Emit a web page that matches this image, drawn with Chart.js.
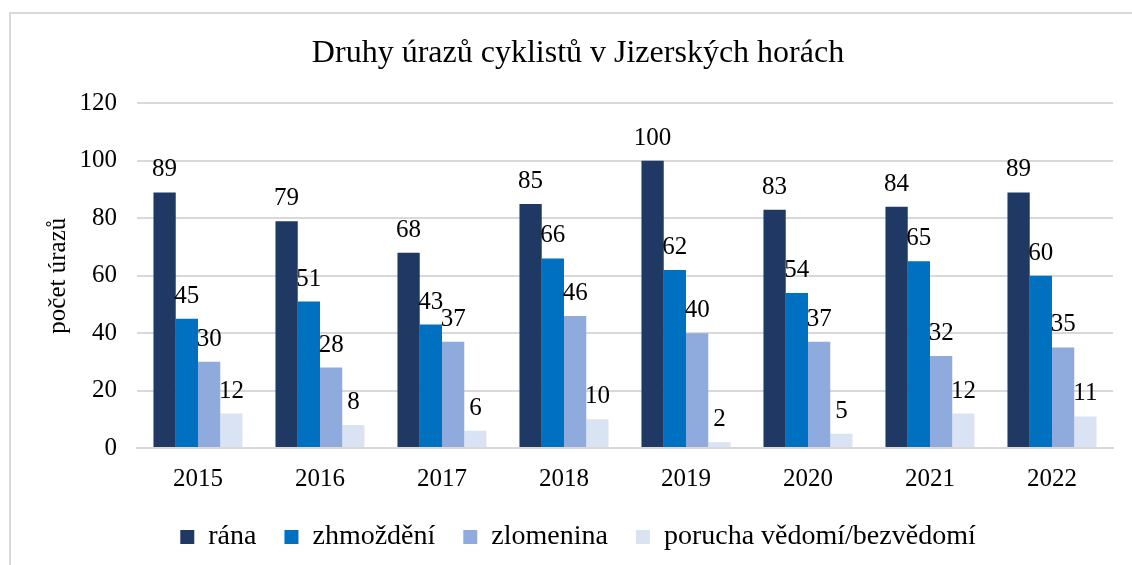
<!DOCTYPE html>
<html>
<head>
<meta charset="utf-8">
<script src="https://cdn.jsdelivr.net/npm/chart.js@4/dist/chart.umd.min.js"></script>
<style>
  html, body { margin: 0; padding: 0; background: #fff; overflow: hidden; }
  #box { position: absolute; left: 9px; top: 12px; width: 1140px; height: 570px;
         border-left: 2px solid #d9d9d9; border-top: 2px solid #d9d9d9; }
  #wrap { position: absolute; left: 0; top: 0; width: 1132px; height: 551px; }
</style>
</head>
<body>
<div id="box"><div id="wrap"><canvas id="urazy"></canvas></div></div>
<script>
const years = ['2015', '2016', '2017', '2018', '2019', '2020', '2021', '2022'];
const rana = [89, 79, 68, 85, 100, 83, 84, 89];
const zhmozdeni = [45, 51, 43, 66, 62, 54, 65, 60];
const zlomenina = [30, 28, 37, 46, 40, 37, 32, 35];
const bezvedomi = [12, 8, 6, 10, 2, 5, 12, 11];

const serif = '"Liberation Serif", "Times New Roman", serif';

// labels over the bars, like excel does it
const barLabels = {
  id: 'barLabels',
  afterDatasetsDraw(chart) {
    const ctx = chart.ctx;
    ctx.save();
    ctx.font = '25px ' + serif;
    ctx.fillStyle = '#000';
    ctx.textAlign = 'center';
    ctx.textBaseline = 'alphabetic';
    chart.data.datasets.forEach((ds, i) => {
      chart.getDatasetMeta(i).data.forEach((bar, j) => {
        ctx.fillText(ds.data[j], bar.x, bar.y - 16);
      });
    });
    ctx.restore();
  }
};

const ctx = document.getElementById('urazy');

new Chart(ctx, {
  type: 'bar',
  data: {
    labels: years,
    datasets: [
      { label: 'rána', data: rana, backgroundColor: '#203864' },
      { label: 'zhmoždění', data: zhmozdeni, backgroundColor: '#0070C0' },
      { label: 'zlomenina', data: zlomenina, backgroundColor: '#8FAADC' },
      { label: 'porucha vědomí/bezvědomí', data: bezvedomi, backgroundColor: '#DAE3F3' }
    ]
  },
  options: {
    responsive: true,
    maintainAspectRatio: false,
    animation: false,
    layout: { padding: { left: 32, right: 30, top: 8, bottom: 4 } },
    datasets: {
      bar: { categoryPercentage: 0.73, barPercentage: 1, borderWidth: 0 }
    },
    plugins: {
      title: {
        display: true,
        text: 'Druhy úrazů cyklistů v Jizerských horách',
        color: '#000',
        font: { family: serif, size: 32, weight: 'normal' },
        padding: { top: 12, bottom: 31 }
      },
      legend: {
        position: 'bottom',
        labels: {
          color: '#000',
          font: { family: serif, size: 28 },
          boxWidth: 14,
          boxHeight: 14,
          padding: 28
        }
      },
      tooltip: { enabled: false }
    },
    scales: {
      x: {
        grid: { display: false },
        border: { color: '#d9d9d9', width: 2 },
        ticks: { color: '#000', font: { family: serif, size: 25 }, padding: 8 },
        afterFit(scale) { scale.height = scale.height - 7; }
      },
      y: {
        min: 0,
        max: 120,
        ticks: { stepSize: 20, color: '#000', font: { family: serif, size: 25 }, padding: 20 },
        grid: { color: '#d9d9d9', lineWidth: 2, drawTicks: false },
        border: { display: false },
        title: {
          display: true,
          text: 'počet úrazů',
          color: '#000',
          font: { family: serif, size: 25 },
          padding: { top: 0, bottom: 0 }
        },
        afterFit(scale) { scale.width = 94; }
      }
    }
  },
  plugins: [barLabels]
});
</script>
</body>
</html>
